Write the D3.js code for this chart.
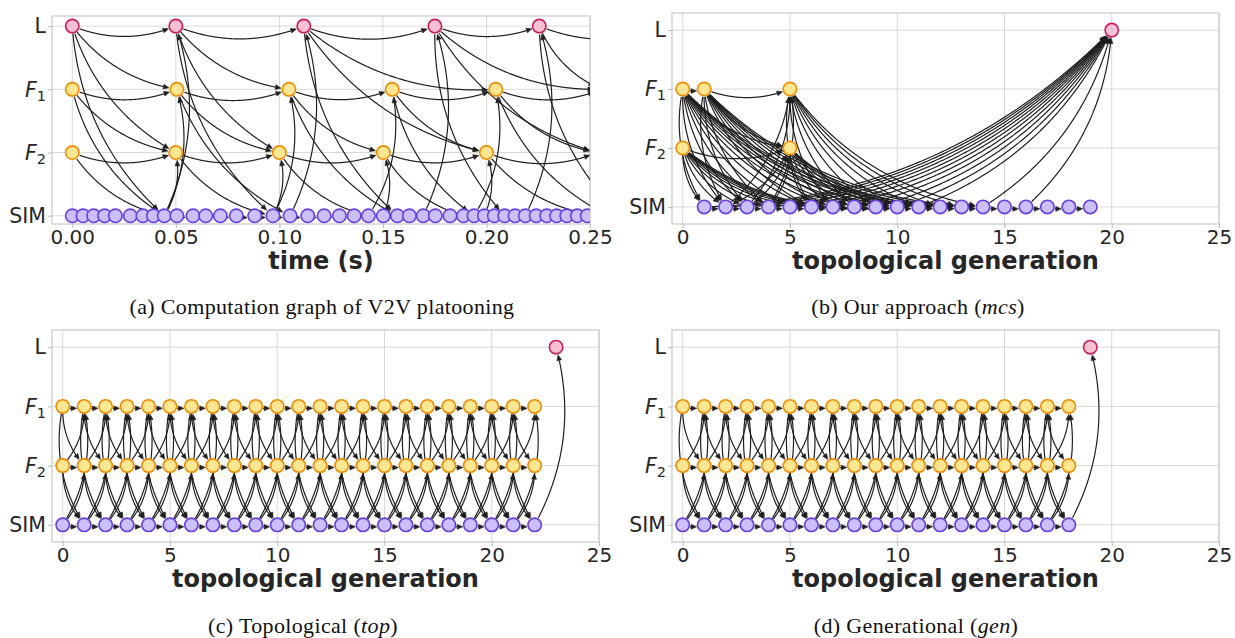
<!DOCTYPE html>
<html>
<head>
<meta charset="utf-8">
<script src="https://cdn.jsdelivr.net/npm/d3@7"></script>
<style>
  body { margin: 0; background: #fff; }
  svg text { font-family: "DejaVu Sans", sans-serif; }
</style>
</head>
<body>
<svg id="fig" width="1235" height="638"></svg>
<script>
// ---------- data ----------
const rowNames = ["S", "F2", "F1", "L"];          // bottom -> top, y = 0..3
const rowLabels = {S: "SIM", F2: "F2", F1: "F1", L: "L"};
const timeTicks = [0, 0.05, 0.10, 0.15, 0.20, 0.25];
const genTicks = [0, 5, 10, 15, 20, 25];

// (a) computation graph of V2V platooning, node times (s)
const aLeader = [0, 0.05, 0.1118, 0.1751, 0.2255, 0.29];
const aF1 = [0, 0.0505, 0.1046, 0.1545, 0.2045, 0.2555];
const aF2 = [0, 0.05, 0.10, 0.1502, 0.20, 0.2535];
const aSim = [0, 0.0052, 0.0103, 0.0156, 0.0208, 0.0280, 0.0341, 0.0392, 0.0444, 0.0505,
  0.0583, 0.0644, 0.0715, 0.0792, 0.0881, 0.0969, 0.1052, 0.1137, 0.1216, 0.1290,
  0.1361, 0.1430, 0.1502, 0.1570, 0.1628, 0.1695, 0.1753, 0.1824, 0.1889, 0.1940,
  0.1990, 0.2038, 0.2088, 0.2138, 0.2188, 0.2240, 0.2291, 0.2339, 0.2388, 0.2439,
  0.2487, 0.2540, 0.2590, 0.2650];
const aLinks = [
  ["L.0","L.1"],["F1.0","F1.1"],["F2.0","F2.1"],["L.0","F1.1"],["L.0","F2.1"],["F1.0","F2.1"],
  ["L.1","L.2"],["F1.1","F1.2"],["F2.1","F2.2"],["L.1","F1.2"],["L.1","F2.2"],["F1.1","F2.2"],
  ["L.2","L.3"],["F1.2","F1.3"],["F2.2","F2.3"],["L.2","F1.4"],["L.2","F2.4"],["F1.2","F2.3"],
  ["L.3","L.4"],["F1.3","F1.4"],["F2.3","F2.4"],["L.3","F1.5"],["L.3","F2.5"],["F1.3","F2.4"],
  ["L.4","L.5"],["F1.4","F1.5"],["F2.4","F2.5"],["F1.4","F2.5"],["L.4","F1.5"],
  ["L.0","S.8"],["F1.0","S.8"],["F2.0","S.8"],
  ["L.1","S.15"],["F1.1","S.16"],["F2.1","S.15"],
  ["L.2","S.23"],["F1.2","S.23"],["F2.2","S.21"],
  ["L.3","S.32"],["F1.3","S.29"],["F2.3","S.28"],
  ["L.4","S.43"],["F1.4","S.42"],["F2.4","S.41"],
  ["S.8","L.1"],["S.8","F1.1"],["S.8","F2.1"],
  ["S.16","L.2"],["S.15","F1.2"],["S.15","F2.2"],
  ["S.25","L.3"],["S.21","F1.3"],["S.22","F2.3"],
  ["S.34","L.4"],["S.29","F1.4"],["S.30","F2.4"]
];

// (b) our approach (mcs), topological generation of each node
const bLeader = [20];
const bF1 = [0, 1, 5];
const bF2 = [0, 5];
const bSim = [1, 2, 3, 4, 5, 6, 7, 8, 9, 10, 11, 12, 13, 14, 15, 16, 17, 18, 19];
const bLinks = [["F1.0","F1.1"],["F1.1","F1.5"],["F2.0","F2.5"],["F1.1","F2.5"],["F1.0","F2.5"]];
const bFans = [
  {from: "F1.0", gens: [1, 2, 3, 4, 5, 6, 7, 8, 9, 10, 11, 12, 13]},
  {from: "F1.1", gens: [2, 3, 4, 6, 7, 8, 9, 10, 11, 12, 13, 14]},
  {from: "F2.0", gens: [1, 2, 3, 4, 5, 6, 7, 8, 9, 10]},
  {from: "F1.5", gens: [6, 7, 8, 9, 10, 11, 12, 13, 14]},
  {from: "F2.5", gens: [6, 7, 8, 9, 10, 11, 12]}
];
const bSimToF = [{to: "F1.5", gens: [2, 3, 4]}, {to: "F2.5", gens: [2, 3, 4]}];
const bSimToLeader = [1, 2, 3, 4, 5, 6, 7, 8, 9, 10, 11, 14, 16];

// (c) topological (top)
const cGens = [0,1,2,3,4,5,6,7,8,9,10,11,12,13,14,15,16,17,18,19,20,21,22];
const cLeader = [23];
// (d) generational (gen)
const dGens = [0,1,2,3,4,5,6,7,8,9,10,11,12,13,14,15,16,17,18];
const dLeader = [19];
// edges repeated between consecutive generations in (c) and (d)
const latticeStep = [["F1","F1"],["F2","F2"],["S","S"],["F1","F2"],["F1","S"],
                     ["F2","S"],["S","F1"],["S","F2"],["F2","F1"]];

// ---------- style ----------
const nodeStyle = {
  L:  {fill: "#f9c0d4", stroke: "#c81e5a"},
  F1: {fill: "#ffe693", stroke: "#f08c00"},
  F2: {fill: "#ffe693", stroke: "#f08c00"},
  S:  {fill: "#cbc0ff", stroke: "#6a3fe0"}
};
const R = 6.7, RAD = 0.2, HEAD_LEN = 5.5, HEAD_W = 2.4;
const edgeColor = "#1f1f1f", gridColor = "#d8d8d8", textColor = "#262626";

// ---------- build graphs ----------
function byKey(rows, keyed) {
  const nodes = [];
  Object.entries(rows).forEach(([row, xs]) => xs.forEach((v, i) =>
    nodes.push({id: row + "." + (keyed ? v : i), row, x: v})));
  return nodes;
}
function latticeEdges(gens, leader) {
  const out = [];
  d3.pairs(gens).forEach(([g, h]) => latticeStep.forEach(([a, b]) => out.push([a + "." + g, b + "." + h])));
  out.push(["S." + gens[gens.length - 1], "L." + leader[0]]);
  return out;
}

const aEdges = aLinks.concat(d3.pairs(aSim.map((d, i) => "S." + i)));
const bEdges = bLinks.slice();
bFans.forEach(f => f.gens.forEach(g => bEdges.push([f.from, "S." + g])));
bSimToF.forEach(f => f.gens.forEach(g => bEdges.push(["S." + g, f.to])));
bSimToLeader.forEach(g => bEdges.push(["S." + g, "L." + bLeader[0]]));
d3.pairs(bSim).forEach(([g, h]) => bEdges.push(["S." + g, "S." + h]));

const panels = [
  {frame: {x0: 52, x1: 590, y0: 16, y1: 224}, xDomain: [-0.0098, 0.25], yDomain: [-0.13, 3.16],
   ticks: timeTicks, fmt: d3.format(".2f"), xlabel: "time (s)", clip: true,
   caption: [{t: "(a) Computation graph of V2V platooning"}], capX: 322, capY: 314,
   nodes: byKey({S: aSim, F2: aF2, F1: aF1, L: aLeader}, false), edges: aEdges},
  {frame: {x0: 672, x1: 1219, y0: 13, y1: 224}, xDomain: [-0.5, 25], yDomain: [-0.29, 3.29],
   ticks: genTicks, fmt: d3.format("d"), xlabel: "topological generation",
   caption: [{t: "(b) Our approach ("}, {t: "mcs", i: true}, {t: ")"}], capX: 918, capY: 314,
   nodes: byKey({S: bSim, F2: bF2, F1: bF1, L: bLeader}, true), edges: bEdges},
  {frame: {x0: 52, x1: 599, y0: 330, y1: 542}, xDomain: [-0.5, 25], yDomain: [-0.29, 3.29],
   ticks: genTicks, fmt: d3.format("d"), xlabel: "topological generation",
   caption: [{t: "(c) Topological ("}, {t: "top", i: true}, {t: ")"}], capX: 303, capY: 633,
   nodes: byKey({S: cGens, F2: cGens, F1: cGens, L: cLeader}, true), edges: latticeEdges(cGens, cLeader)},
  {frame: {x0: 672, x1: 1219, y0: 330, y1: 542}, xDomain: [-0.5, 25], yDomain: [-0.29, 3.29],
   ticks: genTicks, fmt: d3.format("d"), xlabel: "topological generation",
   caption: [{t: "(d) Generational ("}, {t: "gen", i: true}, {t: ")"}], capX: 916, capY: 633,
   nodes: byKey({S: dGens, F2: dGens, F1: dGens, L: dLeader}, true), edges: latticeEdges(dGens, dLeader)}
];

// ---------- drawing ----------
const svg = d3.select("#fig");

function arc(p0, p2, r0, r2) {
  const dx = p2[0] - p0[0], dy = p2[1] - p0[1];
  const c = [(p0[0] + p2[0]) / 2 - RAD * dy, (p0[1] + p2[1]) / 2 + RAD * dx];
  const pts = d3.range(0, 1.000001, 1 / 240).map(t => {
    const u = 1 - t;
    return [u * u * p0[0] + 2 * u * t * c[0] + t * t * p2[0],
            u * u * p0[1] + 2 * u * t * c[1] + t * t * p2[1]];
  });
  return pts.filter(q => Math.hypot(q[0] - p0[0], q[1] - p0[1]) >= r0 &&
                         Math.hypot(q[0] - p2[0], q[1] - p2[1]) >= r2);
}

panels.forEach((p, pi) => {
  const f = p.frame;
  const x = d3.scaleLinear().domain(p.xDomain).range([f.x0, f.x1]);
  const y = d3.scaleLinear().domain(p.yDomain).range([f.y1, f.y0]);
  const g = svg.append("g");

  // grid
  g.selectAll(".vgrid").data(p.ticks).join("line")
    .attr("x1", d => x(d)).attr("x2", d => x(d)).attr("y1", f.y0).attr("y2", f.y1)
    .attr("stroke", gridColor).attr("stroke-width", 1);
  g.selectAll(".hgrid").data(rowNames).join("line")
    .attr("x1", f.x0).attr("x2", f.x1).attr("y1", (d, i) => y(i)).attr("y2", (d, i) => y(i))
    .attr("stroke", gridColor).attr("stroke-width", 1);
  g.append("rect").attr("x", f.x0).attr("y", f.y0).attr("width", f.x1 - f.x0).attr("height", f.y1 - f.y0)
    .attr("fill", "none").attr("stroke", "#cccccc").attr("stroke-width", 1.3);

  // x axis
  const xa = g.append("g").attr("transform", `translate(0,${f.y1})`)
    .call(d3.axisBottom(x).tickValues(p.ticks).tickFormat(p.fmt).tickSize(4).tickPadding(2));
  xa.select(".domain").remove();
  xa.selectAll("line").attr("stroke", "#b8b8b8");
  xa.selectAll("text").attr("fill", textColor).style("font-size", "20px").style("font-family", "DejaVu Sans");

  // y axis
  const ya = g.append("g").attr("transform", `translate(${f.x0},0)`)
    .call(d3.axisLeft(y).tickValues([0, 1, 2, 3]).tickFormat("").tickSize(4));
  ya.select(".domain").remove();
  ya.selectAll("line").attr("stroke", "#b8b8b8");
  rowNames.forEach((r, i) => {
    const t = g.append("text").attr("x", f.x0 - 6).attr("y", y(i) + 7.2)
      .attr("text-anchor", "end").attr("fill", textColor).style("font-size", "20.5px");
    if (r === "F1" || r === "F2") {
      t.append("tspan").style("font-style", "italic").text("F");
      t.append("tspan").attr("dy", 4.2).style("font-size", "14.5px").text(r.slice(1));
    } else {
      t.text(rowLabels[r]);
    }
  });

  // x label
  g.append("text").attr("x", (f.x0 + f.x1) / 2).attr("y", f.y1 + 45)
    .attr("text-anchor", "middle").attr("fill", textColor)
    .style("font-size", "24px").style("font-weight", "bold").text(p.xlabel);

  // caption
  const cap = g.append("text").attr("x", p.capX).attr("y", p.capY).attr("text-anchor", "middle")
    .attr("fill", "#111").style("font-family", "'Liberation Serif', serif").style("font-size", "22px")
    .style("letter-spacing", "0.35px");
  p.caption.forEach(s => cap.append("tspan").style("font-style", s.i ? "italic" : "normal")
    .style("font-family", "'Liberation Serif', serif").text(s.t));

  // graph
  const plot = g.append("g");
  if (p.clip) {
    svg.append("clipPath").attr("id", "clip" + pi).append("rect")
      .attr("x", f.x0).attr("y", f.y0).attr("width", f.x1 - f.x0).attr("height", f.y1 - f.y0);
    plot.attr("clip-path", `url(#clip${pi})`);
  }
  const pos = new Map(p.nodes.map(n => [n.id, [x(n.x), y(rowNames.indexOf(n.row))]]));
  const rOut = R + 0.8;
  const line = d3.line();
  const eg = plot.append("g");
  p.edges.forEach(([s, t]) => {
    const a = pos.get(s), b = pos.get(t);
    if (!a || !b) return;
    const pts = arc(a, b, rOut, rOut + 0.3);
    if (pts.length < 2) return;
    const tip = pts[pts.length - 1];
    let k = pts.length - 1;
    while (k > 0 && Math.hypot(pts[k][0] - tip[0], pts[k][1] - tip[1]) < HEAD_LEN) k--;
    const ref = pts[k];
    const dl = Math.hypot(tip[0] - ref[0], tip[1] - ref[1]) || 1;
    const ux = (tip[0] - ref[0]) / dl, uy = (tip[1] - ref[1]) / dl;
    const base = [tip[0] - ux * HEAD_LEN, tip[1] - uy * HEAD_LEN];
    const body = pts.slice(0, k + 1).concat([base]);
    if (k > 0) {
      eg.append("path").attr("d", line(body)).attr("fill", "none")
        .attr("stroke", edgeColor).attr("stroke-width", 1.2);
    }
    eg.append("path")
      .attr("d", line([tip, [base[0] - uy * HEAD_W, base[1] + ux * HEAD_W],
                            [base[0] + uy * HEAD_W, base[1] - ux * HEAD_W]]) + "Z")
      .attr("fill", edgeColor).attr("stroke", edgeColor).attr("stroke-width", 0.6);
  });

  plot.append("g").selectAll("circle").data(p.nodes).join("circle")
    .attr("cx", d => pos.get(d.id)[0]).attr("cy", d => pos.get(d.id)[1]).attr("r", R)
    .attr("fill", d => nodeStyle[d.row].fill).attr("stroke", d => nodeStyle[d.row].stroke)
    .attr("stroke-width", 1.6);
});
</script>
</body>
</html>
